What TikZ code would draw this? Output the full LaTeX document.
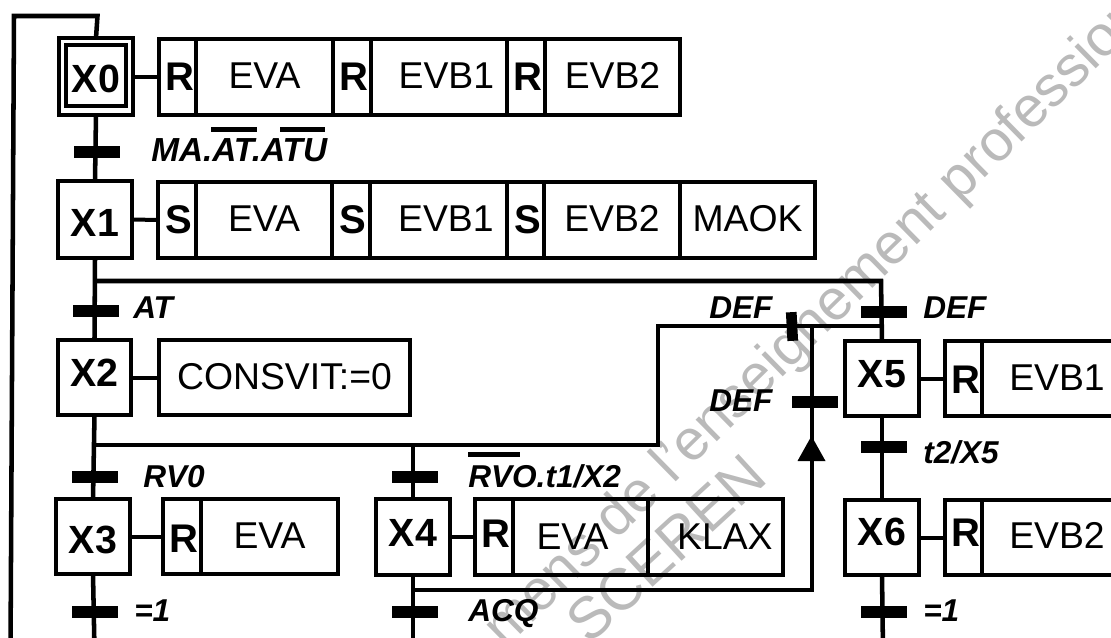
\documentclass[tikz,border=0pt]{standalone}
\usepackage{fontspec}
\setmainfont{Liberation Sans}
\newcommand{\bx}[7][]{\node[#1] (#2) at ({(#3+#5)/2},{(#4+#6)/2}) [minimum width={(#5-#3)*0.75pt},minimum height={(#6-#4)*0.75pt}] {#7};}
\newcommand{\tx}[2]{\pgfmathsetlengthmacro\rr{-(13.4+(#1))*0.75pt}\raisebox{\rr}[0pt][0pt]{#2}}
\newcommand{\kr}[1]{\kern3.5pt{\fontsize{30}{30}\selectfont\textbf{#1}}}
\tikzset{
  box/.style={draw=black,line width=3.4pt,inner sep=0pt,outer sep=0pt,font=\fontsize{28}{28}\selectfont},
  stepbox/.style={box,font=\fontsize{29.5}{29.5}\selectfont\bfseries},
  bar/.style={fill=black,inner sep=0pt,outer sep=0pt,minimum width=34.5pt,minimum height=9pt},
  lab/.style={anchor=base west,inner sep=0pt,font=\fontsize{23.7}{24}\selectfont\bfseries\itshape},
  link/.style={draw=black,line width=3.4pt},
  thinlink/.style={draw=black,line width=3pt},
  wm/.style={text=black!27,anchor=base west,inner sep=0pt},
}
\begin{document}
\begin{tikzpicture}[x=0.75pt,y=-0.75pt]
\useasboundingbox (0,0) rectangle (1111,638);
\clip (0,0) rectangle (1111,638);
\fill[white] (0,0) rectangle (1111,638);
% watermark
\node[wm,rotate=44.5,font=\fontsize{43}{43}\selectfont] (wa) at (505,650) {mens de l'enseignement profession};
\node[wm,rotate=42.5,font=\fontsize{44}{44}\selectfont] (wb) at (589,646) {SCEREN};
% junctions and free ends
\coordinate (topl) at (97.5,16);
\coordinate (topc) at (14,16);
\coordinate (botl) at (10.5,650);
\coordinate (j1) at (95.5,281);
\coordinate (j1r) at (881,281);
\coordinate (j2) at (95,445);
\coordinate (j2a) at (413,445);
\coordinate (j2b) at (658,445);
\coordinate (j3a) at (658,326);
\coordinate (j3b) at (880.5,326);
\coordinate (j4) at (812,326);
\coordinate (j5) at (812,590);
\coordinate (j6) at (414,590);
\coordinate (e3) at (94.5,650);
\coordinate (e4) at (413,650);
\coordinate (e6) at (883,650);
% steps
\bx[stepbox]{x0o}{59}{38}{133}{115}{}
\bx[stepbox]{x0}{66}{45}{126}{106}{\tx{3.5}{X0}}
\bx[stepbox]{x1}{58}{181}{132}{258}{\tx{4}{X1}}
\bx[stepbox]{x2}{58}{340}{131}{415}{\tx{-4}{X2}}
\bx[stepbox]{x3}{56}{499}{130}{574}{\tx{3.5}{X3}}
\bx[stepbox]{x4}{376}{499}{450}{575}{\tx{-4}{X4}}
\bx[stepbox]{x5}{845}{341}{919}{416}{\tx{-4}{X5}}
\bx[stepbox]{x6}{845}{500}{919}{575}{\tx{-5}{X6}}
% actions row 0
\bx[box]{a0}{159}{39}{196}{115}{\tx{0}{\kr{R}}}
\bx[box]{a1}{196}{39}{333}{115}{\tx{-1.5}{EVA}}
\bx[box]{a2}{333}{39}{371}{115}{\tx{0}{\kr{R}}}
\bx[box]{a3}{371}{39}{507}{115}{\tx{-1.5}{\kern11pt EVB1}}
\bx[box]{a4}{507}{39}{545}{115}{\tx{0}{\kr{R}}}
\bx[box]{a5}{545}{39}{680}{115}{\tx{-1.5}{EVB2}}
% actions row 1
\bx[box]{b0}{158}{182}{196}{258}{\tx{0}{\kr{S}}}
\bx[box]{b1}{196}{182}{332}{258}{\tx{-1.5}{EVA}}
\bx[box]{b2}{332}{182}{370}{258}{\tx{0}{\kr{S}}}
\bx[box]{b3}{370}{182}{507}{258}{\tx{-1.5}{\kern11pt EVB1}}
\bx[box]{b4}{507}{182}{544}{258}{\tx{0}{\kr{S}}}
\bx[box]{b5}{544}{182}{680}{258}{\tx{-1.5}{EVB2}}
\bx[box]{b6}{680}{182}{815}{258}{\tx{-1.5}{MAOK}}
% other actions
\bx[box]{c0}{159}{340}{410}{415}{\tx{-1.5}{CONSVIT:=0}}
\bx[box]{d0}{163}{499}{201}{574}{\tx{3}{\kr{R}}}
\bx[box]{d1}{201}{499}{338}{574}{\tx{-1}{EVA}}
\bx[box]{e0}{475}{499}{513}{575}{\tx{-3}{\kr{R}}}
\bx[box]{e1}{513}{499}{648}{575}{\tx{-1}{EVA\kern12pt}}
\bx[box]{e2}{648}{499}{783}{575}{\tx{-1}{\kern14pt KLAX}}
\bx[box]{f0}{945}{341}{982}{416}{\tx{1.5}{\kr{R}}}
\bx[box]{f1}{982}{341}{1132}{416}{\tx{-1}{EVB1}}
\bx[box]{g0}{945}{500}{982}{575}{\tx{-4}{\kr{R}}}
\bx[box]{g1}{982}{500}{1132}{575}{\tx{-2}{EVB2}}
% transition bars
\node[bar] (t0) at (97,152) {};
\node[bar] (t1) at (96,311) {};
\node[bar] (t3) at (95,476.5) {};
\node[bar] (t3b) at (95,611.5) {};
\node[bar] (t4) at (415,477) {};
\node[bar] (t4b) at (415,611.5) {};
\node[bar] (t5) at (884,311.5) {};
\node[bar] (t5b) at (815,402) {};
\node[bar] (t5c) at (883.5,446.5) {};
\node[bar] (t6) at (884,612) {};
\node[bar,minimum width=8pt,minimum height=21.5pt,rotate=3] (t7) at (792,326.5) {};
% connectors
\draw[link] (x0o.north) -- (topl) -- (topc) -- (botl);
\draw[link] (x0o.south) -- (x1.north);
\draw[link] (x1.south) -- (x2.north);
\draw[link] (x2.south) -- (x3.north);
\draw[link] (x3.south) -- (e3);
\draw[link] (j1) -- (j1r) -- (x5.north);
\draw[link] (x2.south |- j2) -- (j2b) -- (j3a) -- (j3b);
\draw[link] (j2a) -- (x4.north);
\draw[link] (x4.south) -- (e4);
\draw[link] (j4) -- (j5) -- (j6);
\draw[link] (x5.south) -- (x6.north);
\draw[link] (x6.south) -- (e6);
\draw[thinlink] (x0o.east |- a0.west) -- (a0.west);
\draw[thinlink] (x1.east) -- (b0.west);
\draw[thinlink] (x2.east) -- (c0.west);
\draw[thinlink] (x3.east) -- (d0.west);
\draw[thinlink] (x4.east) -- (e0.west);
\draw[thinlink] (x5.east) -- (f0.west);
\draw[thinlink] (x6.east) -- (g0.west);
% arrowhead
\fill[black] (811.5,436) -- (825.5,461) -- (797.5,461) -- cycle;
% labels
\node[lab,font=\fontsize{25}{25}\selectfont\bfseries\itshape] (l0) at (151,162) {MA.AT.ATU};
\draw[line width=3.6pt] (211,129.5) -- (257,129.5) (280,129.5) -- (325,129.5);
\node[lab] (l1) at (133,318) {AT};
\node[lab] (l3) at (143,487) {RV0};
\node[lab] (l3b) at (134,621) {=1};
\node[lab] (l4) at (468,487) {RVO.t1/X2};
\draw[line width=3.6pt] (468,454.5) -- (520,454.5);
\node[lab] (l4b) at (468,621) {ACQ};
\node[lab] (l7) at (709,319) {DEF};
\node[lab] (l5b) at (709,411) {DEF};
\node[lab] (l5) at (923,319) {DEF};
\node[lab] (l5c) at (923,463) {t2/X5};
\node[lab] (l6) at (923,621) {=1};
\end{tikzpicture}
\end{document}
